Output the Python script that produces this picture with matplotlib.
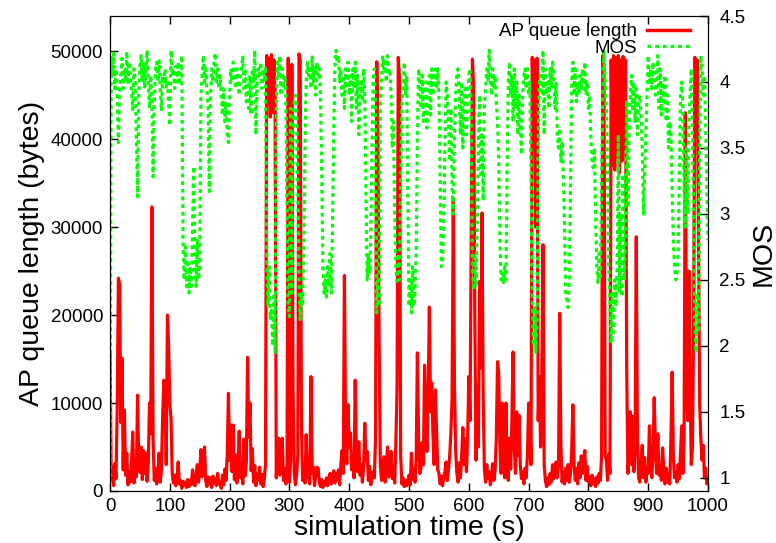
import numpy as np
import matplotlib.pyplot as plt
from matplotlib.lines import Line2D

plt.rcParams['font.family'] = ['Liberation Sans', 'DejaVu Sans']

# sample times (s), one sample every 2 s
t = np.arange(0, 1001, 2)

# AP queue length in kbytes
queue_kb = [
    15.8, 1.2, 2.7, 0.6, 3.1, 1.4, 9.5, 24.2, 23.5, 7.8, 15.1, 2.4, 9.2, 1.8, 4.3, 0.7, 2.2, 1.0, 3.4, 6.7, 0.9, 2.8, 1.6, 10.9, 3.5,
    2.1, 5.0, 1.3, 4.6, 2.0, 4.3, 1.1, 3.2, 10.0, 6.5, 32.3, 5.8, 1.2, 2.6, 0.8, 1.9, 4.3, 1.0, 2.4, 8.5, 12.6, 11.4, 3.0, 20.0, 16.4,
    10.0, 8.2, 2.0, 0.9, 1.8, 0.6, 1.4, 3.3, 0.8, 1.2, 0.3, 1.1, 0.6, 1.0, 0.4, 1.3, 0.5, 1.2, 0.7, 2.4, 1.1, 0.6, 1.9, 3.0, 1.0,
    2.2, 4.7, 1.6, 3.0, 5.0, 1.2, 0.5, 1.6, 0.8, 1.5, 0.4, 1.7, 0.9, 1.4, 0.6, 2.0, 0.8, 1.1, 0.3, 1.8, 0.7, 2.5, 1.2, 4.0, 11.1,
    3.5, 7.5, 2.2, 7.5, 1.3, 4.1, 0.9, 2.6, 6.8, 1.5, 3.2, 0.8, 5.9, 1.7, 3.4, 15.2, 6.1, 10.0, 2.3, 4.8, 1.0, 2.9, 0.6, 2.0, 1.2,
    2.7, 0.8, 1.9, 0.5, 1.4, 3.0, 49.5, 44.0, 49.2, 42.5, 49.6, 43.0, 49.0, 45.0, 1.5, 4.3, 6.0, 1.8, 5.5, 6.0, 1.2, 2.5, 0.8, 3.0, 49.2,
    1.0, 3.5, 48.5, 12.0, 2.2, 0.7, 1.8, 4.0, 49.7, 49.0, 8.0, 1.2, 2.5, 0.9, 6.4, 1.5, 2.3, 0.8, 13.0, 2.0, 2.7, 0.6, 1.8, 2.7, 2.6,
    1.0, 0.5, 1.3, 0.4, 1.1, 0.7, 1.5, 0.6, 1.2, 2.0, 0.8, 1.6, 2.3, 0.9, 2.0, 1.3, 2.4, 0.7, 3.0, 4.6, 2.0, 24.5, 6.0, 3.1, 9.8,
    5.0, 6.6, 2.4, 3.8, 1.5, 12.6, 4.0, 2.2, 5.6, 1.8, 3.0, 1.0, 2.6, 7.7, 3.4, 4.5, 1.2, 2.8, 0.7, 1.5, 2.2, 1.5, 6.0, 48.8, 40.0,
    16.8, 3.0, 1.2, 2.5, 3.9, 1.0, 2.4, 5.0, 1.6, 3.2, 4.5, 1.4, 2.8, 0.9, 5.5, 11.8, 49.3, 47.0, 4.0, 0.8, 1.5, 0.5, 1.2, 0.6, 1.0,
    1.8, 0.7, 4.3, 1.3, 2.5, 1.0, 3.8, 15.7, 6.0, 2.0, 2.6, 5.5, 3.0, 14.3, 8.0, 4.5, 11.0, 20.9, 9.0, 12.3, 6.5, 3.0, 11.5, 7.0, 2.4,
    2.0, 0.8, 1.7, 0.6, 1.4, 2.2, 3.3, 1.2, 2.5, 4.0, 6.6, 10.5, 33.3, 12.0, 4.5, 2.0, 1.0, 3.2, 1.5, 4.0, 7.2, 3.0, 5.9, 2.2, 6.0,
    13.0, 8.0, 28.0, 49.1, 46.0, 20.0, 3.5, 12.0, 5.0, 23.8, 14.0, 31.6, 11.0, 2.5, 1.0, 3.0, 1.4, 2.2, 0.7, 1.6, 3.1, 1.2, 2.4, 6.0, 14.7,
    13.5, 5.0, 2.0, 10.0, 4.0, 1.5, 10.0, 3.0, 1.2, 6.0, 2.5, 8.0, 15.8, 5.0, 2.0, 9.0, 4.0, 8.6, 3.0, 1.4, 2.2, 0.8, 2.6, 1.5, 4.0,
    10.0, 9.5, 3.0, 49.3, 45.0, 49.0, 30.0, 49.2, 8.0, 13.0, 5.0, 12.5, 28.0, 3.0, 1.2, 0.5, 1.5, 0.7, 2.0, 1.0, 3.0, 1.4, 2.3, 3.3, 1.5,
    3.0, 20.2, 5.0, 1.0, 2.2, 0.8, 2.6, 1.2, 3.0, 1.0, 2.0, 4.5, 9.8, 3.0, 1.2, 2.6, 0.8, 3.2, 1.5, 4.0, 2.0, 3.5, 4.6, 1.2, 2.8,
    1.0, 1.5, 0.6, 1.8, 0.8, 1.4, 0.5, 1.6, 0.9, 2.0, 1.2, 4.0, 49.5, 48.0, 4.0, 3.5, 1.2, 4.2, 2.0, 49.0, 37.0, 49.5, 36.5, 49.3, 38.0,
    49.5, 36.2, 49.0, 37.5, 49.4, 39.0, 49.0, 14.0, 2.0, 4.5, 9.0, 3.0, 8.5, 2.2, 5.0, 28.9, 6.0, 1.5, 1.0, 3.0, 5.2, 1.5, 3.8, 1.0, 2.5,
    2.0, 7.4, 3.0, 1.5, 4.0, 10.6, 5.0, 2.0, 6.5, 1.8, 3.0, 1.2, 4.9, 2.4, 0.8, 2.6, 1.0, 2.0, 0.8, 6.0, 13.5, 4.0, 1.5, 2.2, 1.0,
    3.0, 1.4, 4.5, 7.4, 2.0, 6.0, 43.0, 15.0, 8.0, 25.0, 12.0, 3.0, 5.0, 20.0, 49.3, 47.0, 49.0, 29.0, 10.0, 6.0, 3.5, 5.2, 1.5, 2.6, 0.8,
    1.2,
]

# MOS
mos = [
    0.95, 4.2, 4.05, 4.22, 3.95, 4.1, 3.9, 3.54, 3.9, 4.05, 4.18, 3.95, 4.1, 4.0, 4.23, 3.98, 4.15, 4.05, 3.92, 3.79, 4.1, 4.0, 3.6, 3.13, 3.9,
    4.12, 4.2, 4.0, 4.15, 3.95, 4.1, 4.24, 3.98, 3.8, 4.05, 3.9, 3.28, 3.85, 4.1, 4.15, 4.0, 4.16, 3.95, 3.78, 4.05, 3.98, 4.1, 3.95, 4.02, 3.85,
    3.67, 4.24, 4.05, 4.1, 3.95, 4.12, 4.0, 4.15, 3.98, 4.08, 4.2, 2.8, 2.5, 2.75, 2.45, 2.65, 2.4, 2.6, 2.45, 2.9, 3.36, 2.55, 2.45, 2.8, 2.5,
    2.6, 3.9, 4.05, 4.2, 4.0, 4.1, 3.95, 3.8, 3.17, 3.9, 4.1, 4.0, 4.15, 4.22, 4.0, 4.1, 3.95, 4.05, 3.9, 3.75, 3.95, 3.7, 3.85, 3.6, 3.54,
    3.9, 4.1, 4.0, 4.15, 4.05, 3.95, 4.1, 4.0, 3.9, 4.05, 4.1, 4.2, 3.95, 4.1, 3.85, 4.0, 3.8, 4.05, 3.75, 4.1, 4.0, 4.24, 3.6, 4.0, 4.1,
    4.05, 4.15, 3.95, 4.1, 4.0, 4.12, 2.7, 2.3, 2.6, 2.2, 2.27, 2.0, 2.4, 1.95, 3.8, 4.15, 4.05, 4.2, 3.9, 4.1, 3.95, 4.05, 3.9, 3.0, 2.3,
    2.22, 3.8, 2.4, 3.6, 3.85, 3.9, 3.8, 3.2, 2.5, 2.2, 2.4, 2.3, 2.7, 3.5, 4.0, 4.15, 4.05, 4.1, 3.95, 4.2, 4.0, 4.12, 3.9, 4.15, 4.05,
    4.1, 3.9, 3.31, 2.6, 2.4, 2.5, 2.37, 2.6, 2.45, 2.7, 2.4, 2.9, 3.6, 4.1, 4.24, 4.15, 4.2, 4.0, 4.1, 3.9, 4.05, 3.8, 4.1, 3.95, 4.15,
    3.9, 4.05, 3.7, 4.1, 3.95, 4.15, 3.8, 4.05, 3.6, 3.9, 4.0, 3.85, 4.1, 3.9, 3.2, 2.5, 2.7, 2.55, 2.8, 3.5, 4.0, 4.1, 3.8, 2.25, 2.5,
    2.3, 3.8, 4.0, 4.2, 4.1, 4.15, 4.0, 4.2, 4.05, 4.1, 3.9, 3.5, 3.7, 3.0, 2.6, 2.49, 2.7, 2.5, 3.2, 3.8, 4.0, 4.15, 3.9, 4.05, 3.2,
    2.3, 2.5, 2.25, 2.6, 2.3, 2.4, 2.7, 3.6, 4.1, 4.0, 3.8, 4.05, 3.7, 3.9, 4.0, 3.65, 3.9, 4.05, 3.75, 4.1, 3.9, 4.05, 4.1, 3.95, 4.1,
    3.9, 3.3, 2.6, 2.65, 2.9, 3.5, 4.0, 3.9, 3.7, 3.4, 3.8, 3.2, 3.0, 3.6, 3.9, 4.05, 4.1, 3.9, 3.6, 4.0, 3.5, 3.8, 3.95, 3.6, 3.9,
    4.05, 4.1, 3.8, 2.6, 2.42, 2.7, 2.45, 2.9, 3.5, 3.9, 3.3, 3.6, 3.1, 3.8, 3.95, 4.1, 4.0, 4.24, 4.05, 3.9, 4.1, 3.95, 4.05, 3.85, 3.7,
    3.4, 2.8, 2.5, 2.55, 2.48, 2.6, 2.5, 3.3, 4.0, 4.15, 3.9, 4.05, 3.7, 4.1, 3.8, 4.0, 3.6, 3.9, 3.7, 3.45, 3.9, 4.05, 4.1, 3.95, 4.1,
    3.9, 4.0, 3.3, 2.4, 2.0, 2.3, 1.95, 2.2, 3.5, 4.0, 4.05, 3.9, 4.24, 3.6, 4.1, 3.9, 4.0, 3.8, 4.1, 3.95, 4.15, 4.05, 3.8, 4.0, 3.6,
    3.5, 3.65, 3.4, 3.55, 3.3, 2.9, 2.4, 2.35, 2.29, 2.5, 3.2, 4.0, 4.15, 3.9, 4.1, 3.85, 4.0, 3.9, 4.05, 3.95, 4.1, 3.95, 4.15, 3.9, 4.0,
    3.8, 3.9, 3.6, 3.4, 3.35, 3.5, 3.0, 2.6, 2.48, 2.7, 2.5, 3.2, 3.9, 4.23, 4.0, 3.8, 3.3, 2.6, 2.3, 2.02, 2.4, 2.1, 2.5, 2.3, 2.6,
    3.6, 2.4, 3.0, 2.37, 3.3, 2.5, 2.8, 3.86, 3.05, 3.6, 3.9, 4.05, 3.8, 4.0, 3.7, 3.95, 3.6, 3.85, 3.9, 3.75, 3.5, 3.0, 3.3, 3.6, 3.9,
    4.2, 4.0, 4.1, 3.95, 4.15, 4.05, 3.9, 4.0, 4.2, 3.8, 4.1, 3.75, 4.0, 3.85, 4.05, 3.7, 3.9, 3.5, 3.7, 3.6, 3.2, 2.8, 2.6, 2.5, 2.55,
    2.7, 3.3, 3.9, 4.0, 3.8, 3.2, 2.9, 3.5, 3.0, 3.7, 3.9, 4.1, 3.6, 3.0, 2.2, 1.95, 2.4, 2.1, 3.5, 4.2, 4.1, 3.9, 4.05, 3.7, 3.2,
    2.8,
]

queue = np.array(queue_kb) * 1000

fig = plt.figure(figsize=(7.76, 5.43), dpi=100)
ax = fig.add_axes([0.1418, 0.0958, 0.7706, 0.8747])
ax2 = ax.twinx()

ax.plot(t, queue, color='#ff0000', lw=2.3)
ax2.plot(t, mos, color='#00ff00', lw=2.3, ls=(0, (1.2, 1.2)))

ax.set_xlim(0, 1000)
ax.set_ylim(0, 54000)
ax2.set_ylim(0.9, 4.5)
ax.set_xticks(range(0, 1001, 100))
ax.set_yticks(range(0, 50001, 10000))
ax2.set_yticks([1, 1.5, 2, 2.5, 3, 3.5, 4, 4.5])
ax2.set_yticklabels(['1', '1.5', '2', '2.5', '3', '3.5', '4', '4.5'])

ax.tick_params(direction='in', top=True, right=False, length=6, width=1, labelsize=13.5, pad=5)
ax2.tick_params(direction='in', length=6, width=1, labelsize=13.5, pad=8)

ax.set_xlabel('simulation time (s)', fontsize=20.5, labelpad=0)
ax.set_ylabel('AP queue length (bytes)', fontsize=20.5, labelpad=4)
ax2.set_ylabel('MOS', fontsize=20.5, labelpad=4)

handles = [Line2D([], [], color='#ff0000', lw=2.5),
           Line2D([], [], color='#00ff00', lw=2.3, ls=(0, (1.2, 1.2)))]
ax2.legend(handles, ['AP queue length', 'MOS'], loc='upper right',
           bbox_to_anchor=(0.97, 0.985), frameon=False, markerfirst=False,
           fontsize=13.5, handlelength=2.3, handletextpad=0.55,
           labelspacing=-0.02, borderpad=0, borderaxespad=0)

fig.savefig('out.png', dpi=100)
